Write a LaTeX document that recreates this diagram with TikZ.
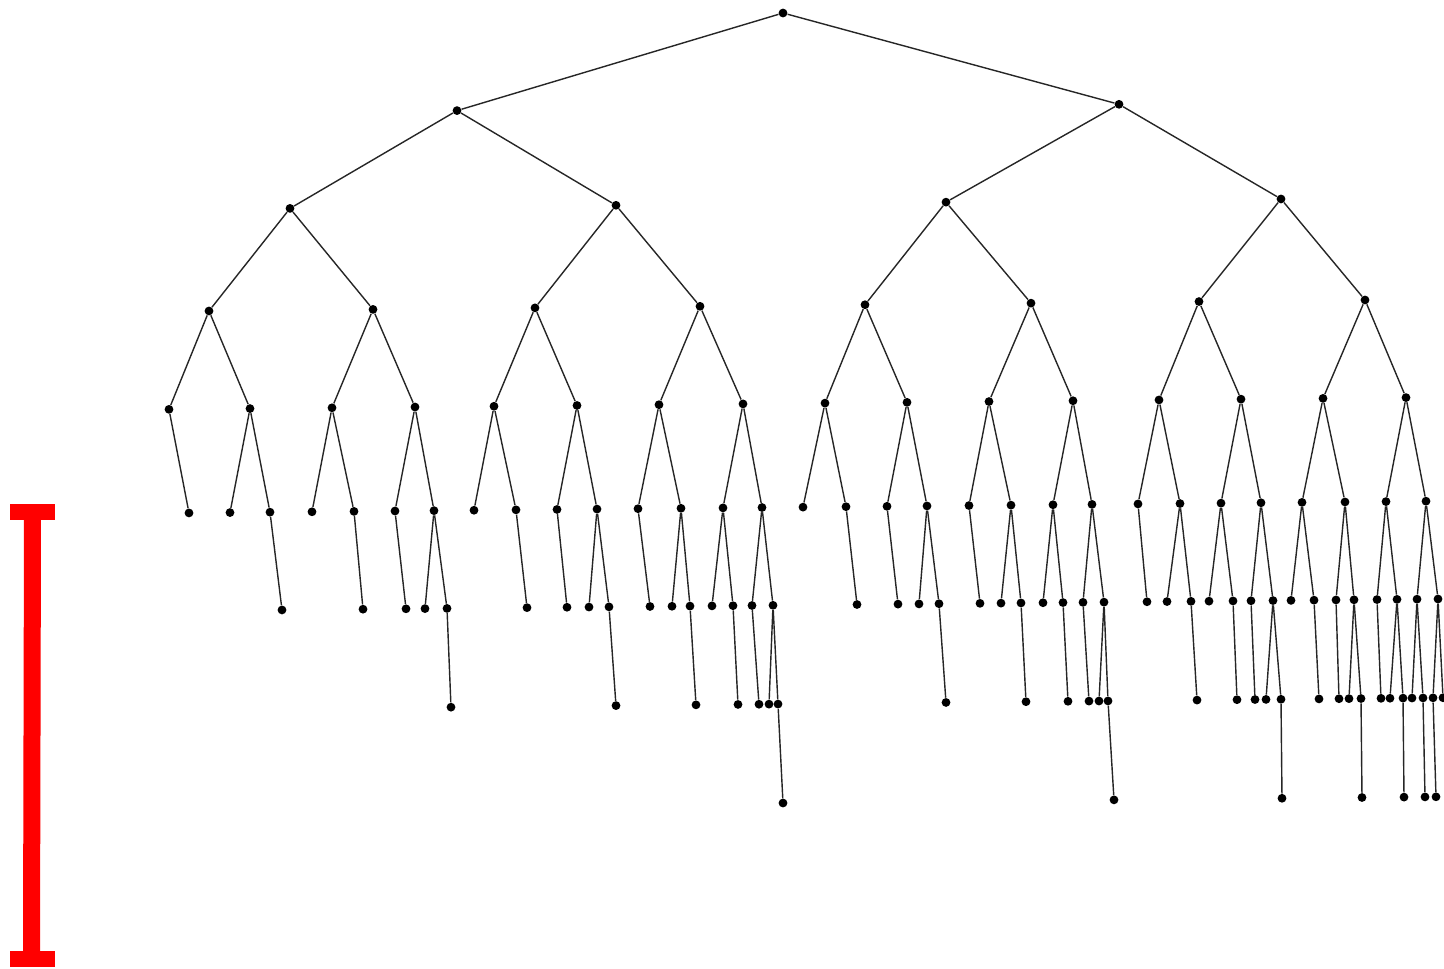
\documentclass[tikz,border=0pt]{standalone}
\usepackage{xcolor}
\usepackage{tikz}

\begin{document}
\begin{tikzpicture}[
x=0.02cm, y=-0.02cm,
vertex/.style={
circle,
fill=black,
inner sep=0pt,
minimum size=5pt
},
branch/.style={draw=black!85, line width=0.8pt},
scalebar/.style={fill=red}
]

\useasboundingbox (0,0) rectangle (1444,968);

% vertices: level/x
\foreach \lv/\px in {
0/783,
1/457, 1/1119,
2/290, 2/616, 2/946, 2/1281,
3/209, 3/373, 3/535, 3/700, 3/865, 3/1031, 3/1199, 3/1365,
4/169, 4/250, 4/332, 4/415, 4/494, 4/577, 4/659, 4/743,
4/825, 4/907, 4/989, 4/1073, 4/1159, 4/1241, 4/1323, 4/1406,
5/189, 5/230, 5/270, 5/312, 5/354, 5/395, 5/434, 5/474, 5/516, 5/557, 5/597,
5/638, 5/681, 5/723, 5/762, 5/803, 5/846, 5/887, 5/927, 5/969, 5/1011, 5/1053,
5/1092, 5/1138, 5/1180, 5/1221, 5/1261, 5/1302, 5/1345, 5/1386, 5/1426,
6/282, 6/363, 6/406, 6/425, 6/447, 6/527, 6/567, 6/589, 6/609, 6/650, 6/672,
6/690, 6/712, 6/733, 6/752, 6/773, 6/857, 6/898, 6/919, 6/939, 6/980, 6/1001,
6/1021, 6/1043, 6/1063, 6/1083, 6/1104, 6/1147, 6/1167, 6/1191, 6/1209, 6/1233,
6/1251, 6/1273, 6/1291, 6/1314, 6/1336, 6/1354, 6/1377, 6/1397, 6/1417, 6/1438,
7/451, 7/616, 7/696, 7/738, 7/759, 7/769, 7/778, 7/946, 7/1026, 7/1068, 7/1089,
7/1099, 7/1108, 7/1197, 7/1237, 7/1255, 7/1266, 7/1281, 7/1319, 7/1339, 7/1349,
7/1361, 7/1381, 7/1390, 7/1403, 7/1412, 7/1423, 7/1433, 7/1443,
8/783, 8/1114, 8/1282, 8/1362, 8/1404, 8/1425, 8/1436}{
\pgfmathsetmacro{\yy}{{13,107.5,203.7,305.5,403.5,507.3,605.2,704,803}[\lv]-0.0095*(\px-783)}
\node[vertex] (n\lv-\px) at (\px,\yy) {};
}

% branches: parent level/parent x/child x
\foreach \lv/\px/\cx in {
0/783/457, 0/783/1119,
1/457/290, 1/457/616, 1/1119/946, 1/1119/1281,
2/290/209, 2/290/373, 2/616/535, 2/616/700, 2/946/865, 2/946/1031, 2/1281/1199, 2/1281/1365,
3/209/169, 3/209/250, 3/373/332, 3/373/415, 3/535/494, 3/535/577, 3/700/659, 3/700/743,
3/865/825, 3/865/907, 3/1031/989, 3/1031/1073, 3/1199/1159, 3/1199/1241, 3/1365/1323, 3/1365/1406,
4/169/189, 4/250/230, 4/250/270, 4/332/312, 4/332/354, 4/415/395, 4/415/434,
4/494/474, 4/494/516, 4/577/557, 4/577/597, 4/659/638, 4/659/681, 4/743/723, 4/743/762,
4/825/803, 4/825/846, 4/907/887, 4/907/927, 4/989/969, 4/989/1011, 4/1073/1053, 4/1073/1092,
4/1159/1138, 4/1159/1180, 4/1241/1221, 4/1241/1261, 4/1323/1302, 4/1323/1345, 4/1406/1386, 4/1406/1426,
5/270/282, 5/354/363, 5/395/406, 5/434/425, 5/434/447,
5/516/527, 5/557/567, 5/597/589, 5/597/609, 5/638/650, 5/681/672, 5/681/690,
5/723/712, 5/723/733, 5/762/752, 5/762/773,
5/846/857, 5/887/898, 5/927/919, 5/927/939, 5/969/980, 5/1011/1001, 5/1011/1021,
5/1053/1043, 5/1053/1063, 5/1092/1083, 5/1092/1104,
5/1138/1147, 5/1180/1167, 5/1180/1191, 5/1221/1209, 5/1221/1233, 5/1261/1251, 5/1261/1273,
5/1302/1291, 5/1302/1314, 5/1345/1336, 5/1345/1354, 5/1386/1377, 5/1386/1397, 5/1426/1417, 5/1426/1438,
6/447/451, 6/609/616, 6/690/696, 6/733/738, 6/752/759, 6/773/769, 6/773/778,
6/939/946, 6/1021/1026, 6/1063/1068, 6/1083/1089, 6/1104/1099, 6/1104/1108,
6/1191/1197, 6/1233/1237, 6/1251/1255, 6/1273/1266, 6/1273/1281, 6/1314/1319, 6/1336/1339,
6/1354/1349, 6/1354/1361, 6/1377/1381, 6/1397/1390, 6/1397/1403, 6/1417/1412, 6/1417/1423,
6/1438/1433, 6/1438/1443,
7/778/783, 7/1108/1114, 7/1281/1282, 7/1361/1362, 7/1403/1404, 7/1423/1425, 7/1433/1436}{
\pgfmathtruncatemacro{\kv}{\lv+1}
\draw[branch] (n\lv-\px) -- (n\kv-\cx);
}

% scale bar
\fill[scalebar] (10,504) rectangle (55,520);
\fill[scalebar] (24,519) -- (41,519) -- (40,952) -- (23,952) -- cycle;
\fill[scalebar] (10,951) rectangle (55,967);

\end{tikzpicture}
\end{document}
